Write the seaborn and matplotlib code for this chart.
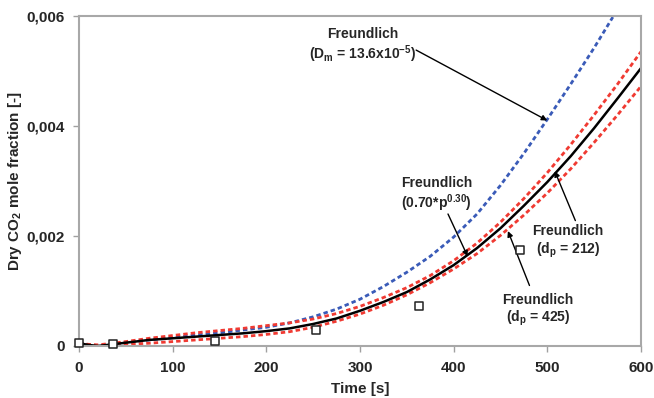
import numpy as np
import pandas as pd
import matplotlib
matplotlib.use("Agg")
import matplotlib.pyplot as plt
import seaborn as sns
from matplotlib.ticker import FuncFormatter

# ---- data ----
t_grid = [0, 10, 20, 36, 50, 75, 100, 125, 150, 175, 200, 225, 250, 275, 300,
          325, 350, 375, 400, 425, 450, 475, 500, 525, 550, 575, 600]
black_fit = [0.00005, 0.00002, 0.0, 0.00003, 0.00006, 0.00011, 0.00014, 0.00017,
             0.00020, 0.00023, 0.00027, 0.00032, 0.00040, 0.00050, 0.00064,
             0.00080, 0.00098, 0.00121, 0.00147, 0.00178, 0.00214, 0.00255,
             0.00298, 0.00345, 0.00396, 0.00450, 0.00505]
red_upper = [0.00005, 0.00003, 0.00002, 0.00005, 0.00008, 0.00014, 0.00019, 0.00024,
             0.00028, 0.00032, 0.00037, 0.00042, 0.00049, 0.00059, 0.00072,
             0.00088, 0.00106, 0.00128, 0.00155, 0.00187, 0.00225, 0.00268,
             0.00315, 0.00366, 0.00420, 0.00476, 0.00535]
red_lower = [0.00005, 0.00002, 0.0, 0.00002, 0.00003, 0.00005, 0.00008, 0.00011,
             0.00014, 0.00017, 0.00021, 0.00026, 0.00034, 0.00045, 0.00058,
             0.00074, 0.00093, 0.00115, 0.00140, 0.00168, 0.00201, 0.00238,
             0.00278, 0.00322, 0.00370, 0.00420, 0.00472]
t_blue = [0, 10, 20, 36, 50, 75, 100, 125, 150, 175, 200, 225, 250, 275, 300,
          325, 350, 375, 400, 425, 450, 475, 500, 525, 550, 570]
blue_dm = [0.00005, 0.00002, 0.0, 0.00003, 0.00006, 0.00011, 0.00015, 0.00020,
           0.00024, 0.00029, 0.00034, 0.00042, 0.00053, 0.00067, 0.00085,
           0.00108, 0.00134, 0.00163, 0.00198, 0.00240, 0.00292, 0.00350,
           0.00412, 0.00476, 0.00542, 0.00598]
exp_t = [0, 36, 145, 253, 363, 471]
exp_y = [0.00005, 0.00003, 0.00009, 0.00029, 0.00073, 0.00174]

x_ticks = [0, 100, 200, 300, 400, 500, 600]
y_ticks = [0, 0.002, 0.004, 0.006]

# ---- style ----
sns.set_style("white")
plt.rcParams['font.family'] = ['Liberation Sans', 'DejaVu Sans']
plt.rcParams['font.weight'] = 'bold'
plt.rcParams['mathtext.default'] = 'regular'

fig = plt.figure(figsize=(6.54, 3.98), dpi=100)
ax = fig.add_axes([0.1208, 0.1307, 0.8592, 0.8291])

df_blue = pd.DataFrame({"t": t_blue, "y": blue_dm})
df_ru = pd.DataFrame({"t": t_grid, "y": red_upper})
df_rl = pd.DataFrame({"t": t_grid, "y": red_lower})
df_bk = pd.DataFrame({"t": t_grid, "y": black_fit})
df_exp = pd.DataFrame({"t": exp_t, "y": exp_y})

dash = (1.6, 1.1)
sns.lineplot(data=df_blue, x="t", y="y", ax=ax, color="#3a5bb8", lw=2.0,
             estimator=None, sort=False)
ax.lines[-1].set_dashes(dash)
sns.lineplot(data=df_ru, x="t", y="y", ax=ax, color="#f03a32", lw=2.0,
             estimator=None, sort=False)
ax.lines[-1].set_dashes(dash)
sns.lineplot(data=df_rl, x="t", y="y", ax=ax, color="#f03a32", lw=2.0,
             estimator=None, sort=False)
ax.lines[-1].set_dashes(dash)
sns.lineplot(data=df_bk, x="t", y="y", ax=ax, color="black", lw=1.8,
             estimator=None, sort=False)
sns.scatterplot(data=df_exp, x="t", y="y", ax=ax, marker="s", s=34,
                facecolor="white", edgecolor="#222222", linewidth=1.1, zorder=5,
                clip_on=False)

ax.set_xlim(0, 600)
ax.set_ylim(0, 0.006)
ax.set_xticks(x_ticks)
ax.set_yticks(y_ticks)


def yfmt(v, pos):
    if abs(v) < 1e-12:
        return "0"
    return ("%.3f" % v).replace(".", ",")


ax.yaxis.set_major_formatter(FuncFormatter(yfmt))
ax.tick_params(axis="both", which="major", labelsize=11, length=4, width=1,
               color="#a0a0a0", direction="out", pad=6)
ax.tick_params(axis="x", bottom=True, pad=7)
ax.tick_params(axis="y", left=True)
for lab in ax.get_xticklabels() + ax.get_yticklabels():
    lab.set_fontweight("bold")
for s in ax.spines.values():
    s.set_color("#a8a8a8")
    s.set_linewidth(1.5)

ax.set_xlabel("Time [s]", fontsize=11, fontweight="bold", labelpad=5)
ax.set_ylabel("Dry CO$_2$ mole fraction [-]", fontsize=11, fontweight="bold")
ax.yaxis.set_label_coords(-0.098, 0.5)

ap = dict(arrowstyle="-|>", color="black", lw=1.0, mutation_scale=8,
          shrinkA=0, shrinkB=0)
fs = 10
ax.annotate("", xy=(500, 0.0041), xytext=(360, 0.00538), arrowprops=ap)
ax.text(303, 0.00545, "Freundlich\n(D$_m$ = 13.6x10$^{-5}$)", ha="center",
        va="center", fontsize=fs, fontweight="bold", linespacing=1.15)

ax.annotate("", xy=(415, 0.00163), xytext=(394, 0.00240), arrowprops=ap)
ax.text(382, 0.00275, "Freundlich\n(0.70*p$^{0.30}$)", ha="center",
        va="center", fontsize=fs, fontweight="bold", linespacing=1.15)

ax.annotate("", xy=(508, 0.00318), xytext=(530, 0.00228), arrowprops=ap)
ax.text(522, 0.00189, "Freundlich\n(d$_p$ = 212)", ha="center",
        va="center", fontsize=fs, fontweight="bold", linespacing=1.15)

ax.annotate("", xy=(458, 0.00209), xytext=(481, 0.00110), arrowprops=ap)
ax.text(490, 0.00064, "Freundlich\n(d$_p$ = 425)", ha="center",
        va="center", fontsize=fs, fontweight="bold", linespacing=1.15)

fig.savefig("out.png", dpi=100)
